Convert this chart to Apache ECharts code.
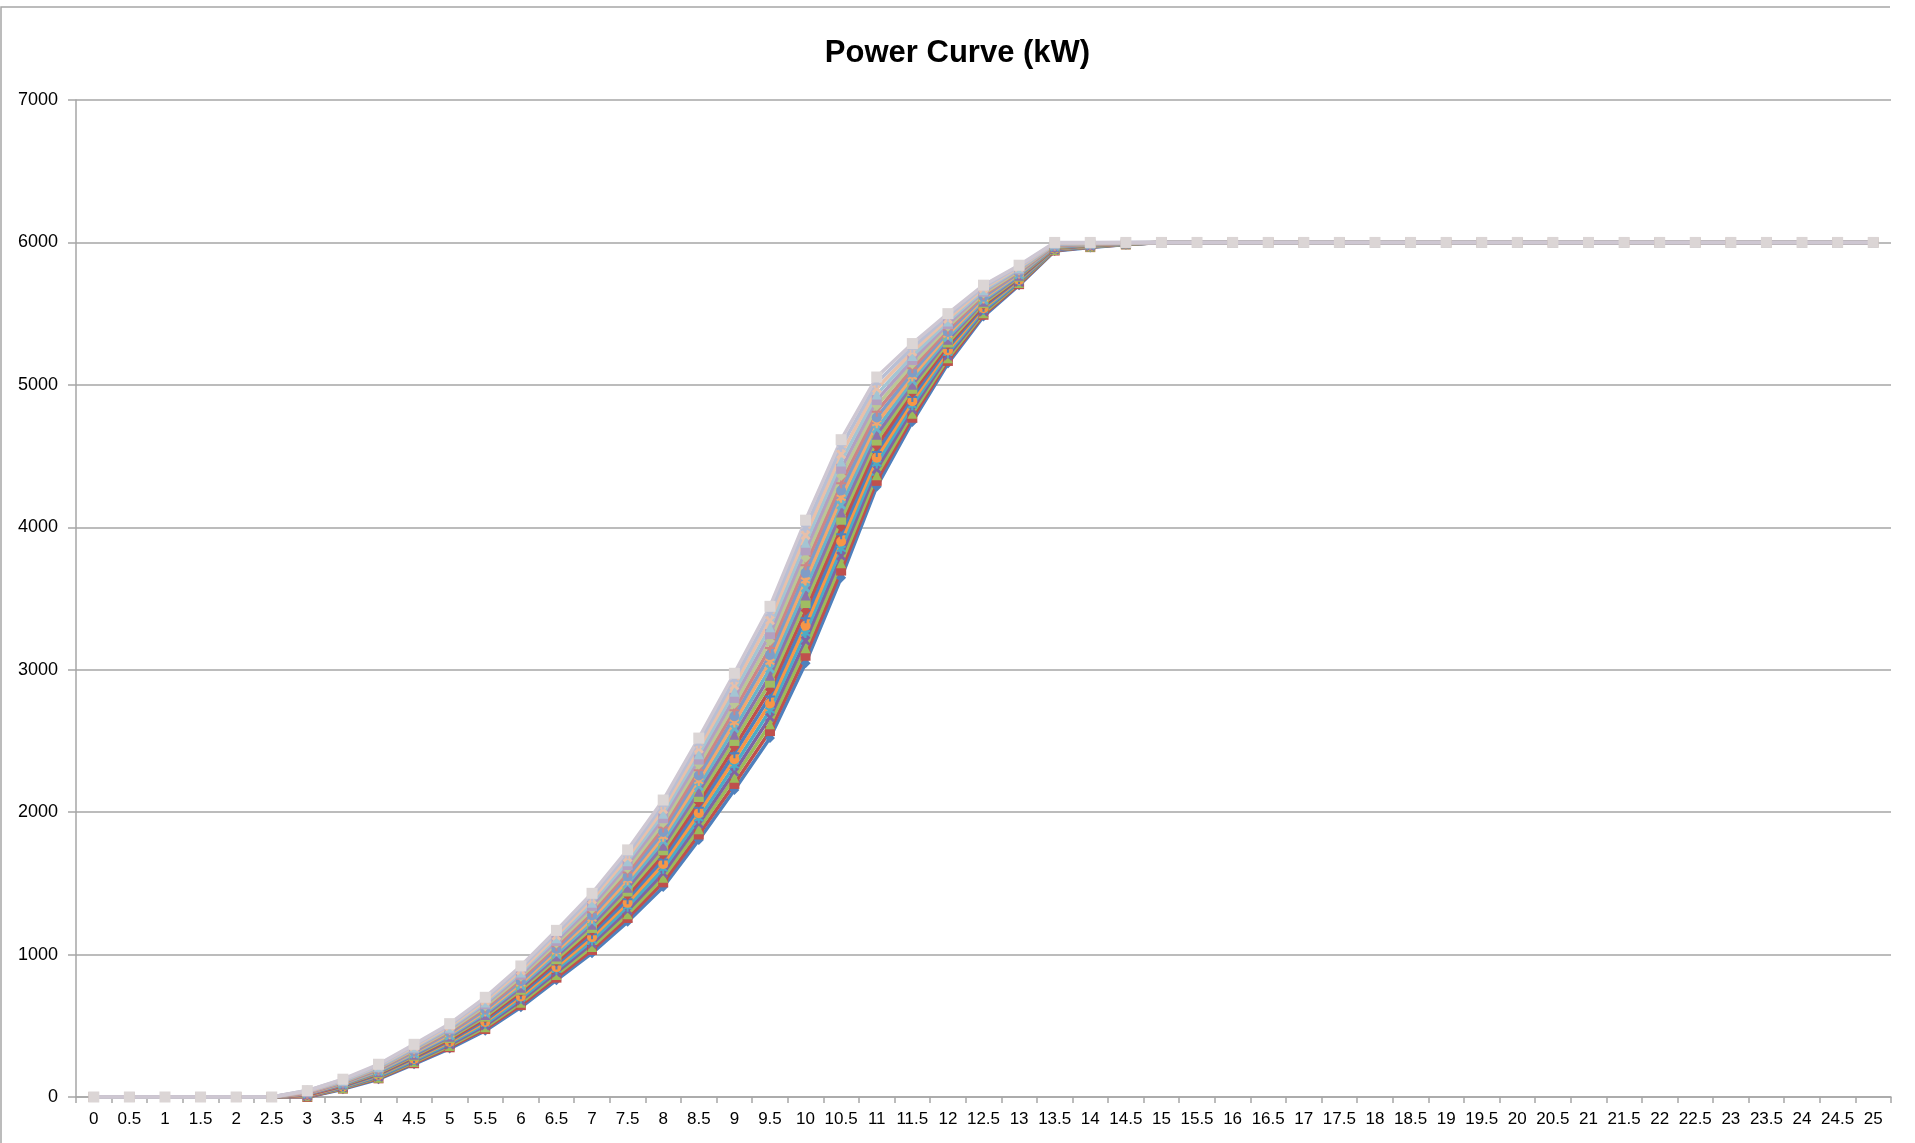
<!DOCTYPE html>
<html>
<head>
<meta charset="utf-8">
<script src="https://cdn.jsdelivr.net/npm/echarts@6/dist/echarts.min.js"></script>
<style>
html,body{margin:0;padding:0;background:#fff;}
#chart{width:1915px;height:1143px;}
</style>
</head>
<body>
<div id="chart"></div>
<script>
// Wind speed categories (m/s)
const windSpeeds = ['0','0.5','1','1.5','2','2.5','3','3.5','4','4.5','5','5.5','6','6.5','7','7.5','8','8.5','9','9.5','10','10.5','11','11.5','12','12.5','13','13.5','14','14.5','15','15.5','16','16.5','17','17.5','18','18.5','19','19.5','20','20.5','21','21.5','22','22.5','23','23.5','24','24.5','25'];

// Power below cut-in (0 – 2.5 m/s), kW
const belowCutIn = [0,0,0,0,0,0];
// Rated power plateau (15 – 25 m/s), kW
const ratedPlateau = [6000,6000,6000,6000,6000,6000,6000,6000,6000,6000,6000,6000,6000,6000,6000,6000,6000,6000,6000,6000,6000];

// Power curves, 3 – 14.5 m/s (kW), lowest to highest
const curve01 = [0,55,125,230,340,465,630,820,1010,1230,1475,1805,2155,2520,3045,3645,4285,4740,5150,5480,5700,5940,5965,5985];
const curve02 = [0,59,131,237,349,477,645,838,1032,1257,1507,1843,2198,2569,3098,3696,4326,4769,5168,5492,5707,5943,5967,5986];
const curve03 = [5,62,136,245,358,490,661,857,1054,1283,1539,1880,2241,2617,3151,3747,4366,4798,5187,5503,5715,5946,5969,5987];
const curve04 = [5,66,142,252,368,502,676,875,1076,1310,1571,1918,2284,2666,3204,3798,4407,4827,5205,5515,5722,5949,5971,5987];
const curve05 = [10,70,147,259,377,514,691,894,1098,1336,1603,1956,2328,2715,3257,3849,4447,4856,5224,5526,5729,5953,5972,5988];
const curve06 = [10,73,153,267,386,527,706,912,1121,1363,1636,1993,2371,2763,3309,3900,4488,4885,5242,5538,5737,5956,5974,5989];
const curve07 = [15,77,158,274,395,539,722,931,1143,1389,1668,2031,2414,2812,3362,3951,4528,4914,5261,5549,5744,5959,5976,5990];
const curve08 = [15,81,164,282,404,552,737,949,1165,1416,1700,2068,2457,2861,3415,4002,4569,4943,5279,5561,5752,5962,5978,5991];
const curve09 = [20,85,169,289,414,564,752,967,1187,1443,1732,2106,2500,2909,3468,4053,4609,4972,5297,5573,5759,5965,5980,5991];
const curve10 = [20,88,175,296,423,576,767,986,1209,1469,1764,2144,2543,2958,3521,4104,4650,5001,5316,5584,5766,5968,5982,5992];
const curve11 = [25,92,180,304,432,589,783,1004,1231,1496,1796,2181,2587,3007,3574,4156,4690,5029,5334,5596,5774,5972,5983,5993];
const curve12 = [25,96,186,311,441,601,798,1023,1253,1522,1828,2219,2630,3056,3627,4207,4731,5058,5353,5607,5781,5975,5985,5994];
const curve13 = [30,99,191,318,451,613,813,1041,1275,1549,1860,2257,2673,3104,3680,4258,4771,5087,5371,5619,5788,5978,5987,5995];
const curve14 = [30,103,197,326,460,626,828,1059,1297,1576,1892,2294,2716,3153,3733,4309,4812,5116,5389,5631,5796,5981,5989,5995];
const curve15 = [35,107,202,333,469,638,844,1078,1319,1602,1924,2332,2759,3202,3786,4360,4852,5145,5408,5642,5803,5984,5991,5996];
const curve16 = [35,110,208,341,478,651,859,1096,1342,1629,1957,2369,2802,3250,3838,4411,4893,5174,5426,5654,5811,5987,5993,5997];
const curve17 = [40,114,213,348,487,663,874,1115,1364,1655,1989,2407,2846,3299,3891,4462,4933,5203,5445,5665,5818,5991,5994,5998];
const curve18 = [40,118,219,355,497,675,889,1133,1386,1682,2021,2445,2889,3348,3944,4513,4974,5232,5463,5677,5825,5994,5996,5998];
const curve19 = [45,121,224,363,506,688,905,1152,1408,1708,2053,2482,2932,3396,3997,4564,5014,5261,5482,5688,5833,5997,5998,5999];
const curve20 = [45,125,230,370,515,700,920,1170,1430,1735,2085,2520,2975,3445,4050,4615,5055,5290,5500,5700,5840,6000,6000,6000];

const curves = [curve01,curve02,curve03,curve04,curve05,curve06,curve07,curve08,curve09,curve10,
                curve11,curve12,curve13,curve14,curve15,curve16,curve17,curve18,curve19,curve20];

const yTicks = {min: 0, max: 7000, interval: 1000};

// ---- styling ----
const accents = ['#4F81BD','#C0504D','#9BBB59','#8064A2','#4BACC6','#F79646'];
const paleTarget = '#E0D5DC';
function hexToRgb(h){return [parseInt(h.substr(1,2),16),parseInt(h.substr(3,2),16),parseInt(h.substr(5,2),16)];}
function mix(a,b,t){const A=hexToRgb(a),B=hexToRgb(b);return 'rgb('+A.map((v,i)=>Math.round(v*(1-t)+B[i]*t)).join(',')+')';}
const X_SYM = 'path://M0,2 L2,0 L5,3 L8,0 L10,2 L7,5 L10,8 L8,10 L5,7 L2,10 L0,8 L3,5 Z';
const STAR_SYM = 'path://M4,0 H6 V3.2 L8.8,1.6 L9.8,3.3 L7,5 L9.8,6.7 L8.8,8.4 L6,6.8 V10 H4 V6.8 L1.2,8.4 L0.2,6.7 L3,5 L0.2,3.3 L1.2,1.6 L4,3.2 Z';
const PLUS_SYM = 'path://M4,0 H6 V4 H10 V6 H6 V10 H4 V6 H0 V4 H4 Z';
const symbols = ['diamond','rect','triangle',X_SYM,STAR_SYM,'circle',PLUS_SYM];

const n = curves.length;
const series = curves.map((c, j) => {
  const t = Math.max(0, (j - 7) / (n - 8)) * 0.8;
  let color = mix(accents[j % 6], paleTarget, t);
  let sym = symbols[j % symbols.length];
  let size = 10;
  if (j === n - 1) { color = '#CEC7D2'; sym = 'rect'; size = 11; }
  return {
    name: 'Series ' + (j + 1),
    type: 'line',
    data: belowCutIn.concat(c, ratedPlateau),
    symbol: sym,
    symbolSize: size,
    showAllSymbol: true,
    lineStyle: {color: color, width: 3.5},
    itemStyle: {color: j === n - 1 ? '#DBD5D5' : color, borderWidth: 0},
    emphasis: {disabled: true},
    z: 2
  };
});

const chart = echarts.init(document.getElementById('chart'), null, {renderer: 'canvas'});
chart.setOption({
  animation: false,
  backgroundColor: '#ffffff',
  title: {
    text: 'Power Curve (kW)',
    left: 'center',
    top: 33,
    textStyle: {fontFamily: 'Liberation Sans', fontWeight: 'bold', fontSize: 31, color: '#000'}
  },
  graphic: [
    {type: 'polyline', shape: {points: [[1, 1143], [1, 7], [1890, 7]]}, style: {stroke: '#A6A6A6', lineWidth: 1.5, fill: null}, silent: true}
  ],
  grid: {left: 76, right: 24, top: 100, bottom: 46, containLabel: false},
  xAxis: {
    type: 'category',
    data: windSpeeds,
    boundaryGap: true,
    axisLine: {lineStyle: {color: '#A6A6A6', width: 1.5}},
    axisTick: {show: true, alignWithLabel: false, length: 6, lineStyle: {color: '#A6A6A6', width: 1.5}},
    axisLabel: {interval: 0, margin: 14, fontFamily: 'Liberation Sans', fontSize: 17, color: '#000'},
    splitLine: {show: false}
  },
  yAxis: {
    type: 'value',
    min: yTicks.min, max: yTicks.max, interval: yTicks.interval,
    axisLine: {show: true, lineStyle: {color: '#A6A6A6', width: 1.5}},
    axisTick: {show: true, length: 8, lineStyle: {color: '#A6A6A6', width: 1.5}},
    axisLabel: {margin: 18, fontFamily: 'Liberation Sans', fontSize: 18, color: '#000', formatter: function (v) { return String(v); }},
    splitLine: {show: true, lineStyle: {color: '#A6A6A6', width: 1.5}}
  },
  series: series
});
</script>
</body>
</html>
